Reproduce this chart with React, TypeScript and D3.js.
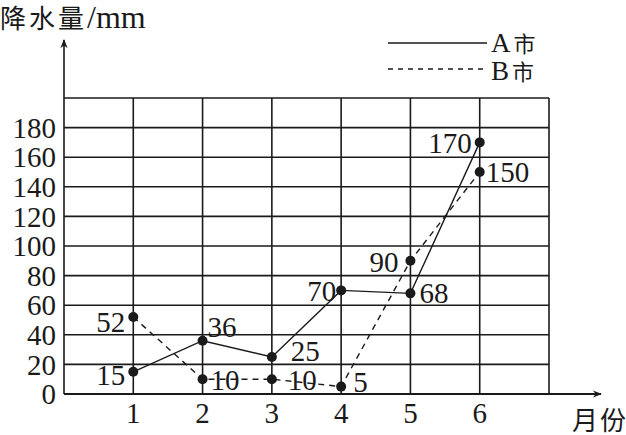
import React from "react";
import * as d3 from "d3";

const months = [1, 2, 3, 4, 5, 6];
const cityA = [15, 36, 25, 70, 68, 170];
const cityB = [52, 10, 10, 5, 90, 150];
const yTicks = [0, 20, 40, 60, 80, 100, 120, 140, 160, 180];
const xTicks = [1, 2, 3, 4, 5, 6];
const gridY = [20, 40, 60, 80, 100, 120, 140, 160, 180, 200];
const gridX = [1, 2, 3, 4, 5, 6, 7];
// label placement relative to each point: [dx, dy, anchor]
const labelPosA: [number, number, string][] = [
  [-8, 3, "end"], [5, -14, "start"], [19, -6, "start"], [-5, 0, "end"], [9, -1, "start"], [-8, 0, "end"],
];
const labelPosB: [number, number, string][] = [
  [-8, 5, "end"], [8, 1, "start"], [16, 1, "start"], [12, -5, "start"], [-12, 1, "end"], [6, 0, "start"],
];

const W = 626;
const H = 435;
const serif = "Liberation Serif";
const cjk = "Noto Sans CJK SC";

export default function App() {
  const x = d3.scaleLinear().domain([0, 7]).range([64, 549]);
  const y = d3.scaleLinear().domain([0, 200]).range([394, 98]);
  const line = d3
    .line<number>()
    .x((_, i) => x(months[i]))
    .y((d) => y(d));
  const ink = "#1a1a1a";

  return (
    <svg
      width={W}
      height={H}
      style={{ position: "absolute", left: 0, top: 0, background: "#fff" }}
    >
      <defs>
        <marker id="arr" viewBox="0 0 10 10" refX="9" refY="5" markerWidth="9" markerHeight="9" orient="auto" markerUnits="userSpaceOnUse">
          <path d="M0,1 L10,5 L0,9 L3,5 Z" fill={ink} />
        </marker>
      </defs>
      <rect width={W} height={H} fill="#fff" />
      {gridY.map((v) => (
        <line key={"gy" + v} x1={x(0)} x2={x(7)} y1={y(v)} y2={y(v)} stroke={ink} strokeWidth={1.6} />
      ))}
      {gridX.map((v) => (
        <line key={"gx" + v} x1={x(v)} x2={x(v)} y1={y(0)} y2={y(200)} stroke={ink} strokeWidth={1.6} />
      ))}
      <line x1={x(0)} y1={y(0)} x2={x(0)} y2={40} stroke={ink} strokeWidth={1.6} markerEnd="url(#arr)" />
      <line x1={x(0)} y1={y(0)} x2={601} y2={y(0)} stroke={ink} strokeWidth={1.8} markerEnd="url(#arr)" />
      {yTicks.map((v) => (
        <text key={"yt" + v} x={56} y={y(v)} dy="0.35em" textAnchor="end" fontFamily={serif} fontSize={29} fill={ink}>
          {v}
        </text>
      ))}
      {xTicks.map((v) => (
        <text key={"xt" + v} x={x(v)} y={423} textAnchor="middle" fontFamily={serif} fontSize={29} fill={ink}>
          {v}
        </text>
      ))}
      <path d={line(cityA) || ""} fill="none" stroke={ink} strokeWidth={1.4} />
      <path d={line(cityB) || ""} fill="none" stroke={ink} strokeWidth={1.4} strokeDasharray="6,5" />
      {cityA.map((v, i) => (
        <circle key={"da" + i} cx={x(months[i])} cy={y(v)} r={5} fill={ink} />
      ))}
      {cityB.map((v, i) => (
        <circle key={"db" + i} cx={x(months[i])} cy={y(v)} r={5} fill={ink} />
      ))}
      {cityA.map((v, i) => (
        <text key={"la" + i} x={x(months[i]) + labelPosA[i][0]} y={y(v) + labelPosA[i][1]} dy="0.35em"
          textAnchor={labelPosA[i][2] as any} fontFamily={serif} fontSize={29} fill={ink}>
          {v}
        </text>
      ))}
      {cityB.map((v, i) => (
        <text key={"lb" + i} x={x(months[i]) + labelPosB[i][0]} y={y(v) + labelPosB[i][1]} dy="0.35em"
          textAnchor={labelPosB[i][2] as any} fontFamily={serif} fontSize={29} fill={ink}>
          {v}
        </text>
      ))}
      <text x={0} y={28} fill={ink} fontFamily={serif}>
        <tspan fontFamily={cjk} fontSize={26} letterSpacing={3}>降水量</tspan>
        <tspan fontSize={32}>/mm</tspan>
      </text>
      <text x={572} y={430} fill={ink} fontFamily={cjk} fontSize={26} letterSpacing={2}>月份</text>
      <line x1={388} x2={487} y1={43} y2={43} stroke={ink} strokeWidth={1.4} />
      <line x1={388} x2={487} y1={69} y2={69} stroke={ink} strokeWidth={1.4} strokeDasharray="5,5" />
      <text x={491} y={52} fill={ink} fontFamily={serif}>
        <tspan fontSize={27}>A</tspan>
        <tspan fontFamily={cjk} fontSize={22} dx={3}>市</tspan>
      </text>
      <text x={491} y={80} fill={ink} fontFamily={serif}>
        <tspan fontSize={27}>B</tspan>
        <tspan fontFamily={cjk} fontSize={22} dx={3}>市</tspan>
      </text>
    </svg>
  );
}
